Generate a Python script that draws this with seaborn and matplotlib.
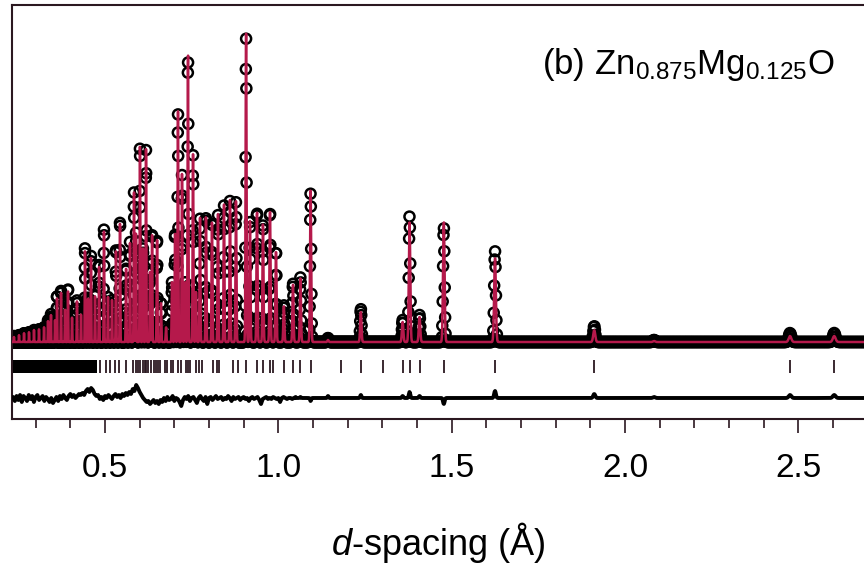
import numpy as np
import pandas as pd
import matplotlib
matplotlib.use("Agg")
import matplotlib.pyplot as plt
import seaborn as sns

# Bragg peaks: position d (Å), observed and fitted peak heights (arb. units)
peak_d = [0.2375, 0.2519, 0.2664, 0.2808, 0.2952, 0.3096, 0.3241, 0.3356, 0.3442,
          0.3558, 0.3616, 0.3731, 0.3846, 0.3933, 0.4048, 0.4192, 0.4308, 0.4423,
          0.4510, 0.4596, 0.4712, 0.4827, 0.4971, 0.5086, 0.5202, 0.5317, 0.5433,
          0.5606, 0.5721, 0.5836, 0.5894, 0.6009, 0.6096, 0.6183, 0.6298, 0.6356,
          0.6500, 0.6615, 0.6760, 0.6933, 0.7019, 0.7105, 0.7221, 0.7307, 0.7394,
          0.7539, 0.7625, 0.7740, 0.7913, 0.8086, 0.8259, 0.8432, 0.8605, 0.8778,
          0.9069, 0.9182, 0.9384, 0.9557, 0.9759, 0.9932, 1.0159, 1.0422, 1.0637,
          1.0930, 1.1432, 1.2379, 1.3585, 1.3784, 1.4072, 1.4772, 1.6249, 1.9111,
          2.0835, 2.4758, 2.6033]
peak_obs = [6, 7, 9, 10, 12, 13, 15, 22, 28,
            22, 47, 52, 34, 54, 26, 42, 28, 95,
            45, 87, 48, 79, 114, 45, 42, 94, 122,
            75, 100, 150, 110, 197, 95, 192, 70, 110,
            104, 40, 15, 60, 110, 229, 167, 60, 285,
            187, 50, 124, 127, 122, 127, 137, 142, 140,
            304, 122, 132, 119, 132, 92, 37, 59, 65,
            149, 4, 33, 22, 126, 27, 115, 91, 16,
            2, 9, 9]
peak_calc = [5, 7, 9, 10, 12, 13, 15, 21, 27,
             22, 45, 50, 33, 52, 25, 41, 28, 92,
             44, 85, 47, 77, 112, 45, 42, 93, 121,
             75, 99, 150, 109, 199, 95, 193, 70, 110,
             105, 40, 15, 60, 111, 232, 168, 60, 292,
             188, 50, 125, 128, 123, 128, 138, 143, 141,
             309, 123, 133, 120, 134, 93, 36, 58, 64,
             152, 2, 30, 20, 120, 25, 121, 84, 12,
             1, 6, 6]

# Gaussian resolution (sigma, fraction of d) and data step (fraction of d)
RES = 0.0015
STEP = 0.0008

# Reflection markers: resolved positions and the unresolved dense range
refl_d = [0.4856, 0.5029, 0.5144, 0.5289, 0.5404, 0.5606, 0.5808, 0.5880, 0.5950,
          0.6009, 0.6090, 0.6140, 0.6183, 0.6250, 0.6327, 0.6410, 0.6460, 0.6529,
          0.6600, 0.6731, 0.6790, 0.6904, 0.6970, 0.7105, 0.7190, 0.7350, 0.7394,
          0.7441, 0.7611, 0.7719, 0.7806, 0.8125, 0.8237, 0.8293, 0.8678, 0.8826,
          0.9069, 0.9381, 0.9556, 0.9766, 0.9847, 1.0159, 1.0422, 1.0637, 1.0930,
          1.1814, 1.2379, 1.3017, 1.3585, 1.3784, 1.4072, 1.4772, 1.6249, 1.9111,
          2.4758, 2.6033]
refl_band = (0.236, 0.478)

# Difference curve (obs - calc) on a 0.005 Å step up to 1.05 Å
diff_start, diff_step = 0.235, 0.005
diff_val = [1, -3, 2, -2, 3, -4, 2, 0, -3, 3, -1, 2, -4, 1, 3, -2, 0, 2, -3, 1,
            -1, -4, 0, -5, -2, 1, -3, 2, -1, 3, 0, -2, 2, 4, 1, 3, 0, 2, 4, 3,
            5, 3, 7, 9, 6, 10, 8, 4, 2, 3, -1, 1, -2, 2, 0, 3, 1, -1, 2, 4,
            1, 3, 0, 4, 2, 5, 3, 6, 4, 9, 7, 13, 10, 6, 3, 0, -2, -4, -3, -6,
            -4, -2, -5, -3, -6, -2, -4, 0, -3, 1, -2, -1, 2, -3, 0, -1, -4, -8, -2, 1,
            -1, 2, -3, 0, 1, -2, -5, 0, 2, -1, -3, 1, -6, 0, 1, -2, 0, 2, -1, 0,
            1, -2, 0, -1, 2, 0, -3, 1, -1, 0, 1, -2, 0, 1, -1, 0, -3, 0, 1, -1,
            0, 1, -2, -6, -1, 0, 1, -1, 0, -1, 1, 0, -1, 0, -4, 0, 1, 0, -1, 0,
            0, -1, 0, 1]

RED = "#b5194b"
INK = "#2b1820"
TICK_LO, TICK_HI = -31, -18
DIFF_OFFSET = -56

# ---- profiles on the instrument grid ----
d = np.exp(np.arange(np.log(0.226), np.log(2.75), STEP))
centres = np.asarray(peak_d)[:, None]
shape = np.exp(-0.5 * ((d - centres) / (RES * centres)) ** 2)
obs = (np.asarray(peak_obs)[:, None] * shape).sum(axis=0)
calc = (np.asarray(peak_calc)[:, None] * shape).sum(axis=0)
df = pd.DataFrame({"d": d, "obs": obs, "calc": calc})

diff_x = diff_start + diff_step * np.arange(len(diff_val))
hi = df[df["d"] > diff_x[-1]]
diff = pd.DataFrame({
    "d": np.concatenate([diff_x, hi["d"].to_numpy()]),
    "diff": np.concatenate([np.asarray(diff_val, float),
                            (hi["obs"] - hi["calc"]).to_numpy()]) + DIFF_OFFSET,
})

# ---- figure ----
sns.set_theme(style="white")
plt.rcParams["font.family"] = ["Liberation Sans", "DejaVu Sans"]
plt.rcParams["mathtext.fontset"] = "custom"
plt.rcParams["mathtext.rm"] = "Liberation Sans"
plt.rcParams["mathtext.it"] = "Liberation Sans:italic"
plt.rcParams["text.color"] = "black"
plt.rcParams["axes.labelcolor"] = "black"
plt.rcParams["xtick.color"] = "black"

fig = plt.figure(figsize=(8.64, 5.70), dpi=100)
ax = fig.add_axes([11.7 / 864, 1 - 419.3 / 570, 1 - 11.7 / 864, (419.3 - 5) / 570])

sns.scatterplot(data=df, x="d", y="obs", ax=ax, s=52, marker="o",
                facecolor="none", edgecolor="black", linewidth=1.8, zorder=2,
                legend=False)
sns.lineplot(data=df, x="d", y="calc", ax=ax, color=RED, lw=1.8,
             estimator=None, sort=False, zorder=3)
sns.lineplot(data=diff, x="d", y="diff", ax=ax, color="black", lw=2.8,
             estimator=None, sort=False, zorder=3)

ax.vlines(refl_d, TICK_LO, TICK_HI, color=INK, lw=1.3, zorder=3)
ax.fill_between(list(refl_band), TICK_LO, TICK_HI, color="black", lw=0, zorder=3)

ax.set_xlim(0.2309, 2.6892)
ax.set_ylim(-77.3, 337)
ax.set_yticks([])
ax.xaxis.set_major_locator(matplotlib.ticker.MultipleLocator(0.5))
ax.xaxis.set_minor_locator(matplotlib.ticker.MultipleLocator(0.1))
ax.xaxis.set_major_formatter(matplotlib.ticker.FormatStrFormatter("%.1f"))
ax.tick_params(axis="x", which="both", direction="out", bottom=True,
               color=INK, width=1.2, labelsize=24, pad=14, labelcolor="black")
ax.tick_params(axis="x", which="major", length=10)
ax.tick_params(axis="x", which="minor", length=6.5)
for side in ("left", "top", "bottom"):
    ax.spines[side].set_color(INK)
    ax.spines[side].set_linewidth(1.5)
ax.spines["right"].set_visible(False)

ax.set_xlabel("$d$-spacing (Å)", fontsize=26, labelpad=26)
ax.set_ylabel("")
fig.text(835 / 864, 1 - 74 / 570, "(b) Zn$_{0.875}$Mg$_{0.125}$O",
         fontsize=25, ha="right", va="baseline")

fig.savefig("out.png", dpi=100)
